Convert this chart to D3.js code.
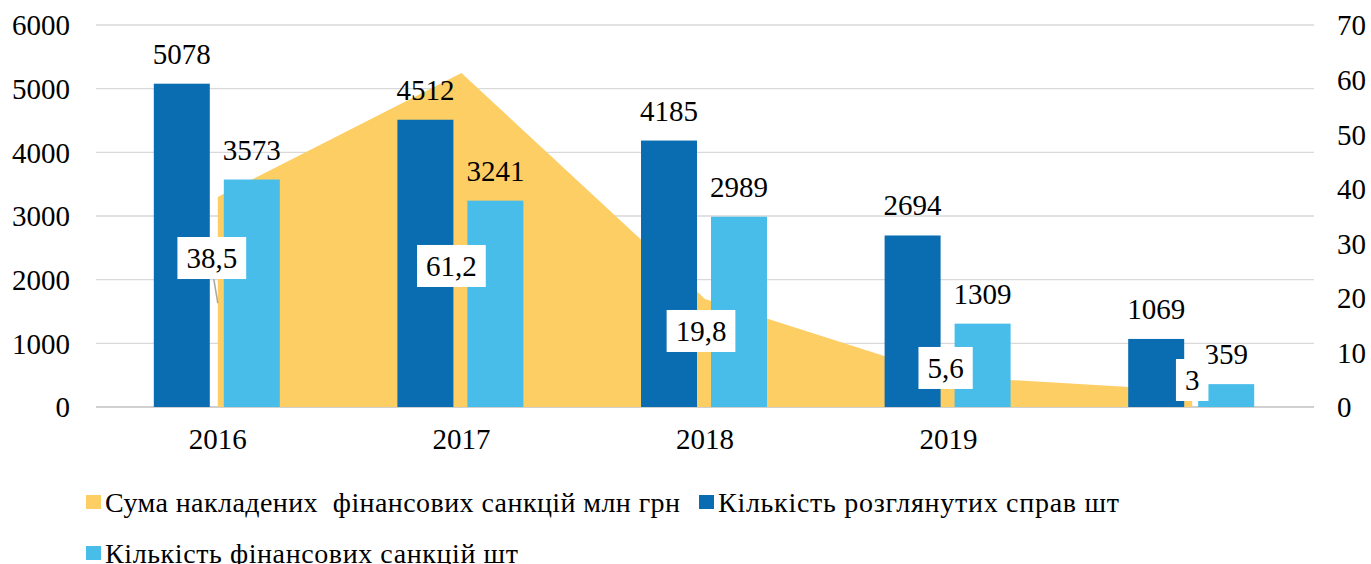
<!DOCTYPE html>
<html>
<head>
<meta charset="utf-8">
<script src="https://cdnjs.cloudflare.com/ajax/libs/d3/7.8.5/d3.min.js"></script>
</head>
<body style="margin:0;background:#fff">
<div id="chart"></div>
<script>
var width = 1371,
    height = 564;

var serif = "'Liberation Serif', 'Times New Roman', Tinos, 'DejaVu Serif', serif";

// data
var years = ["2016", "2017", "2018", "2019", ""];
var sanctionsSum = [38.5, 61.2, 19.8, 5.6, 3];        // млн грн, right axis
var casesCount = [5078, 4512, 4185, 2694, 1069];      // шт, left axis
var sanctionsCount = [3573, 3241, 2989, 1309, 359];   // шт, left axis
var leftTicks = [0, 1000, 2000, 3000, 4000, 5000, 6000];
var rightTicks = [0, 10, 20, 30, 40, 50, 60, 70];
var seriesNames = ["Сума накладених  фінансових санкцій млн грн", "Кількість розглянутих справ шт", "Кількість фінансових санкцій шт"];

var colors = ["#fdce63", "#0b6db1", "#48bdea"];

// manual placement of area data labels (moved by hand in the original)
var areaLabelPos = [[-6, 2340], [-10, 2215], [-4, 1194], [-3, 613], [0, 424]];

var svg = d3.select('#chart').append('svg')
    .attr('width', width)
    .attr('height', height)
    .attr('font-family', serif);

var x = d3.scaleBand()
    .domain(years)
    .range([96, 1314]);

var xInner = d3.scaleBand()
    .domain(["cases", "sanctions"])
    .range([-64, 62])
    .paddingInner(0.2);

var y = d3.scaleLinear().domain([0, 6000]).range([407, 25]);
var yR = d3.scaleLinear().domain([0, 70]).range([407, 25]);

// gridlines
svg.append('g')
    .selectAll('line')
    .data(leftTicks)
    .enter()
    .append('line')
    .attr('x1', 96)
    .attr('x2', 1314)
    .attr('y1', function(d) { return y(d); })
    .attr('y2', function(d) { return y(d); })
    .attr('stroke', function(d) { return d === 0 ? '#d0d0d0' : '#d9d9d9'; })
    .attr('stroke-width', function(d) { return d === 0 ? 2 : 1.3; });

function styleAxis(g, dy) {
    g.attr('font-family', serif);
    g.select('.domain').remove();
    g.selectAll('text')
        .attr('font-family', serif)
        .attr('font-size', 29)
        .attr('fill', '#000')
        .attr('dy', dy);
}

// left axis
svg.append('g')
    .attr('transform', 'translate(70,0)')
    .call(d3.axisLeft(y).tickValues(leftTicks).tickSize(0).tickPadding(0).tickFormat(d3.format('d')))
    .call(styleAxis, '0.34em');

// right axis
svg.append('g')
    .attr('transform', 'translate(1337,0)')
    .call(d3.axisRight(yR).tickValues(rightTicks).tickSize(0).tickPadding(0))
    .call(styleAxis, '0.34em');

// x axis labels
svg.append('g')
    .attr('transform', 'translate(0,428)')
    .call(d3.axisBottom(x).tickSize(0).tickPadding(0))
    .call(styleAxis, '0.71em');

// area series
var area = d3.area()
    .x(function(d, i) { return x(years[i]) + x.bandwidth() / 2; })
    .y0(y(0))
    .y1(function(d) { return yR(d); });

svg.append('path')
    .datum(sanctionsSum)
    .attr('fill', colors[0])
    .attr('d', area);

// bars
var groups = svg.selectAll('.year')
    .data(years)
    .enter()
    .append('g')
    .attr('class', 'year')
    .attr('transform', function(d) { return 'translate(' + (x(d) + x.bandwidth() / 2) + ',0)'; });

function drawBars(key, values, color) {
    groups.append('rect')
        .attr('x', xInner(key))
        .attr('width', xInner.bandwidth())
        .attr('y', function(d, i) { return y(values[i]); })
        .attr('height', function(d, i) { return y(0) - y(values[i]); })
        .attr('fill', color);

    groups.append('text')
        .attr('x', xInner(key) + xInner.bandwidth() / 2)
        .attr('y', function(d, i) { return y(values[i]) - 20; })
        .attr('text-anchor', 'middle')
        .attr('font-family', serif)
        .attr('font-size', 29)
        .text(function(d, i) { return values[i]; });
}

drawBars('cases', casesCount, colors[1]);
drawBars('sanctions', sanctionsCount, colors[2]);

// area data labels with white boxes
var fmt = function(v) { return String(v).replace('.', ','); };

groups.each(function(d, i) {
    var g = d3.select(this);
    var cy = y(areaLabelPos[i][1]);
    var cx = areaLabelPos[i][0];
    var t = g.append('text')
        .attr('x', cx)
        .attr('y', cy)
        .attr('dy', '0.34em')
        .attr('text-anchor', 'middle')
        .attr('font-family', serif)
        .attr('font-size', 29)
        .text(fmt(sanctionsSum[i]));
    var bb = t.node().getBBox();
    var padX = 9;
    g.insert('rect', function() { return t.node(); })
        .attr('x', bb.x - padX)
        .attr('y', cy - 21)
        .attr('width', bb.width + padX * 2)
        .attr('height', 42)
        .attr('fill', '#fff');
    if (i === 0) {
        g.insert('line', function() { return g.select('rect').node(); })
            .attr('x1', cx + 2)
            .attr('y1', cy + 21)
            .attr('x2', cx + 6)
            .attr('y2', cy + 45)
            .attr('stroke', '#a6a6a6')
            .attr('stroke-width', 1.5);
    }
});

// legend
var legendPos = [[86, 502], [699, 502], [86, 553]];
var legendWidths = [575, 401, 413];
var legend = svg.selectAll('.legend')
    .data(seriesNames)
    .enter()
    .append('g')
    .attr('class', 'legend')
    .attr('transform', function(d, i) { return 'translate(' + legendPos[i][0] + ',' + legendPos[i][1] + ')'; });

legend.append('rect')
    .attr('x', 0)
    .attr('y', -7)
    .attr('width', 15)
    .attr('height', 14)
    .attr('fill', function(d, i) { return colors[i]; });

legend.append('text')
    .attr('x', 19)
    .attr('dy', '0.34em')
    .attr('textLength', function(d, i) { return legendWidths[i]; })
    .attr('lengthAdjust', 'spacing')
    .attr('xml:space', 'preserve')
    .attr('font-family', serif)
    .attr('font-size', 28)
    .text(function(d) { return d; });
</script>
</body>
</html>
